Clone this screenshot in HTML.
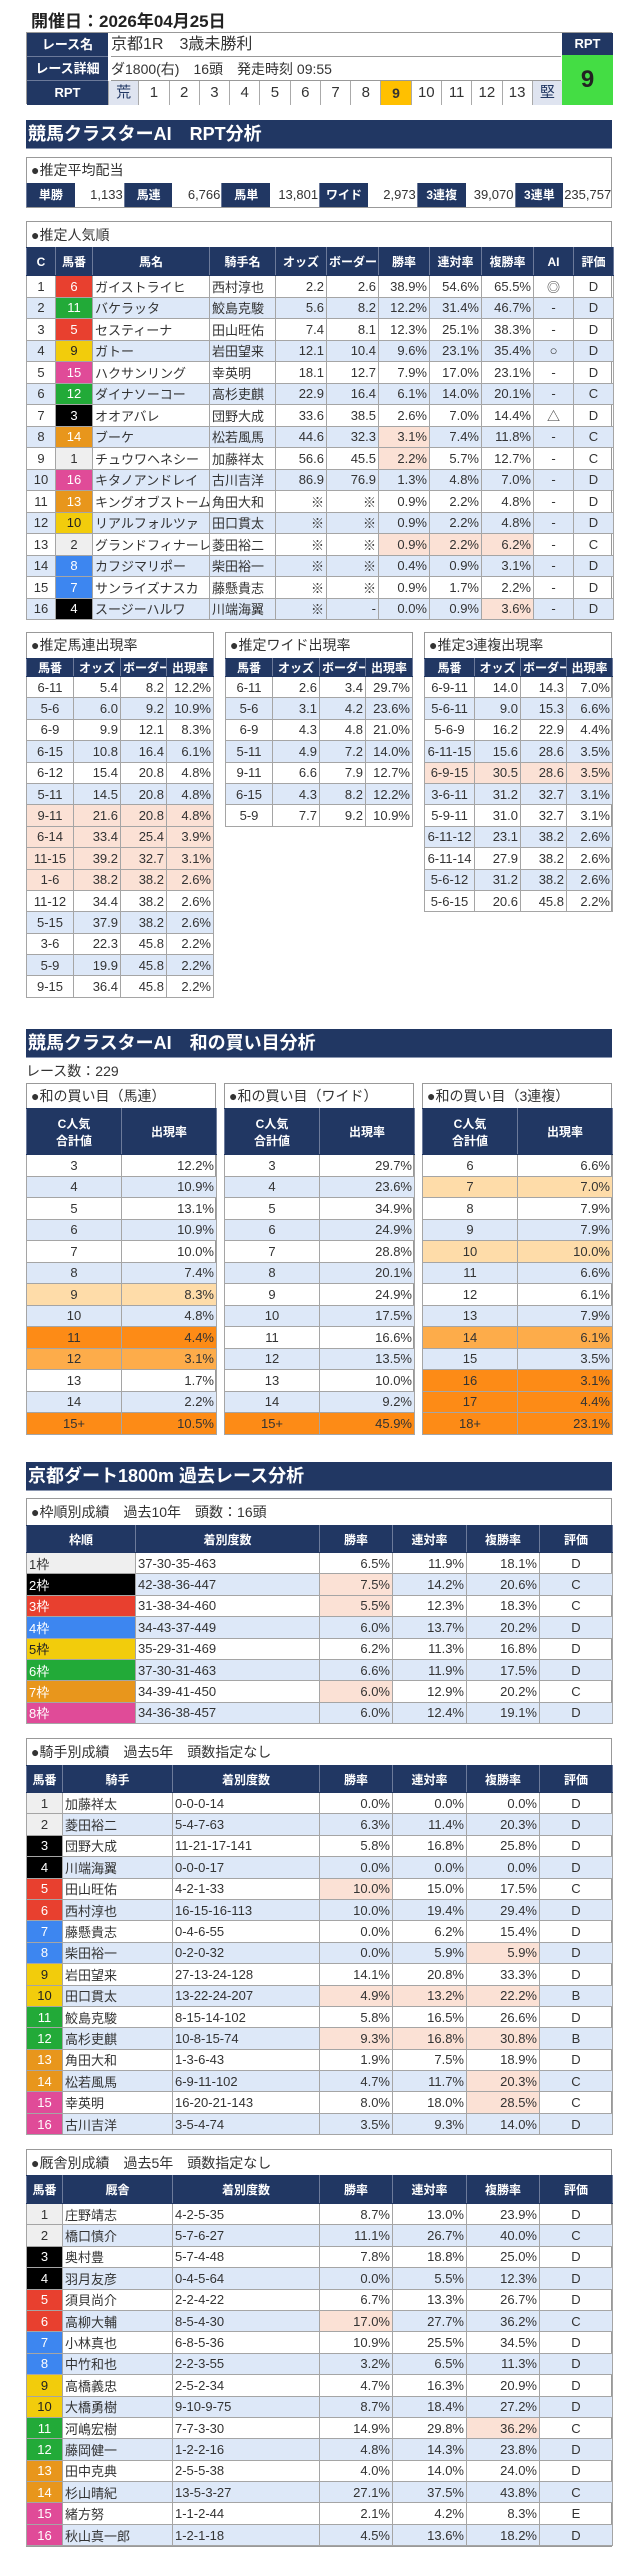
<!DOCTYPE html>
<html lang="ja"><head><meta charset="utf-8">
<style>
*{box-sizing:border-box;margin:0;padding:0}
body{width:633px;height:2560px;background:#fff;position:relative;overflow:hidden;font-family:"Liberation Sans","Noto Sans CJK JP",sans-serif;color:#333}
.abs{position:absolute}
.bar{position:absolute;left:26px;width:586px;height:29px;background:#213763;color:#fff;font-weight:bold;font-size:18px;line-height:29px;padding-left:2px;border-bottom:1px solid #8a96b0}
.box{position:absolute;border:1px solid #999;background:#fff}
.ttl{font-size:14px;padding-left:4px;white-space:nowrap;overflow:hidden}
table{border-collapse:collapse;table-layout:fixed;position:absolute}
td,th{border:1px solid #a5a5a5;font-size:13px;white-space:nowrap;overflow:hidden;padding:0 2px}
th{background:#213763;color:#fff;font-weight:bold;font-size:12px;text-align:center;border-color:#213763 #6c7a9a}
td.r{text-align:right}td.c{text-align:center}td.l{text-align:left}
tr.alt td{background:#dde8f8}
td.pk{background:#fbe1d5!important}
td.o1{background:#fedca9!important}td.o2{background:#fdac4a!important}td.o3{background:#fd8b16!important}
</style></head><body>
<div class="abs" style="left:31px;top:7px;font-size:17px;font-weight:bold;color:#222">開催日：2026年04月25日</div>

<div class="abs" style="left:26px;top:32px;width:586px;height:72px;border:1px solid #999">
 <div class="abs" style="left:0;top:0;width:81px;height:24px;background:#213763;color:#fff;font-weight:bold;font-size:13px;text-align:center;line-height:24px;border-bottom:1px solid #6c7a9a">レース名</div>
 <div class="abs" style="left:0;top:24px;width:81px;height:24px;background:#213763;color:#fff;font-weight:bold;font-size:13px;text-align:center;line-height:24px;border-bottom:1px solid #6c7a9a">レース詳細</div>
 <div class="abs" style="left:0;top:48px;width:81px;height:24px;background:#213763;color:#fff;font-weight:bold;font-size:13px;text-align:center;line-height:24px">RPT</div>
 <div class="abs" style="left:84px;top:0;width:450px;height:24px;font-size:16px;line-height:24px;border-bottom:1px solid #999">京都1R　3歳未勝利</div>
 <div class="abs" style="left:84px;top:24px;width:450px;height:24px;font-size:14px;line-height:24px;border-bottom:1px solid #999">ダ1800(右)　16頭　発走時刻 09:55</div>
 <div class="abs" id="rptscale" style="left:81px;top:48px;width:454px;height:24px"></div>
 <div class="abs" style="left:535px;top:0;width:51px;height:22px;background:#213763;color:#fff;font-weight:bold;font-size:13px;text-align:center;line-height:22px">RPT</div>
 <div class="abs" style="left:535px;top:22px;width:51px;height:50px;background:#44dd44;color:#222;font-weight:bold;font-size:24px;text-align:center;line-height:50px">9</div>
</div>

<div class="bar" style="top:120px">競馬クラスターAI　RPT分析</div>
<div class="box" style="left:26px;top:157px;width:586px;height:51px"><div class="ttl" style="line-height:25px">●推定平均配当</div><div id="payout" class="abs" style="left:-1px;top:25px;width:586px;height:24px"></div></div>

<div class="box" style="left:26px;top:221px;width:586px;height:399px"><div class="ttl" style="line-height:26px">●推定人気順</div></div>

<div class="box" style="left:26px;top:632px;width:188px;height:366px"><div class="ttl" style="line-height:25px">●推定馬連出現率</div></div>
<div class="box" style="left:225px;top:632px;width:188px;height:195px"><div class="ttl" style="line-height:25px">●推定ワイド出現率</div></div>
<div class="box" style="left:424px;top:632px;width:188px;height:280px"><div class="ttl" style="line-height:25px">●推定3連複出現率</div></div>

<div class="bar" style="top:1029px">競馬クラスターAI　和の買い目分析</div>
<div class="abs" style="left:26px;top:1061px;font-size:14px">レース数：229</div>
<div class="box" style="left:26px;top:1083px;width:190px;height:351px"><div class="ttl" style="line-height:25px">●和の買い目（馬連）</div></div>
<div class="box" style="left:224px;top:1083px;width:190px;height:351px"><div class="ttl" style="line-height:25px">●和の買い目（ワイド）</div></div>
<div class="box" style="left:422px;top:1083px;width:190px;height:351px"><div class="ttl" style="line-height:25px">●和の買い目（3連複）</div></div>

<div class="bar" style="top:1462px">京都ダート1800m 過去レース分析</div>
<div class="box" style="left:26px;top:1498px;width:586px;height:226px"><div class="ttl" style="line-height:26px">●枠順別成績　過去10年　頭数：16頭</div></div>
<div class="box" style="left:26px;top:1738px;width:586px;height:397px"><div class="ttl" style="line-height:26px">●騎手別成績　過去5年　頭数指定なし</div></div>
<div class="box" style="left:26px;top:2149px;width:586px;height:398px"><div class="ttl" style="line-height:26px">●厩舎別成績　過去5年　頭数指定なし</div></div>

<script>
const rptLabels=["荒","1","2","3","4","5","6","7","8","9","10","11","12","13","堅"];
const rptValue="9";
const payoutLabels=["単勝","馬連","馬単","ワイド","3連複","3連単"];
const payoutValues=["1,133","6,766","13,801","2,973","39,070","235,757"];

const popHead=["C","馬番","馬名","騎手名","オッズ","ボーダー","勝率","連対率","複勝率","AI","評価"];
const popRows=[
["1","6","ガイストライヒ","西村淳也","2.2","2.6","38.9%","54.6%","65.5%","◎","D"],
["2","11","バケラッタ","鮫島克駿","5.6","8.2","12.2%","31.4%","46.7%","-","D"],
["3","5","セスティーナ","田山旺佑","7.4","8.1","12.3%","25.1%","38.3%","-","D"],
["4","9","ガトー","岩田望来","12.1","10.4","9.6%","23.1%","35.4%","○","D"],
["5","15","ハクサンリング","幸英明","18.1","12.7","7.9%","17.0%","23.1%","-","D"],
["6","12","ダイナソーコー","高杉吏麒","22.9","16.4","6.1%","14.0%","20.1%","-","C"],
["7","3","オオアバレ","団野大成","33.6","38.5","2.6%","7.0%","14.4%","△","D"],
["8","14","ブーケ","松若風馬","44.6","32.3","3.1%","7.4%","11.8%","-","C"],
["9","1","チュウワヘネシー","加藤祥太","56.6","45.5","2.2%","5.7%","12.7%","-","C"],
["10","16","キタノアンドレイ","古川吉洋","86.9","76.9","1.3%","4.8%","7.0%","-","D"],
["11","13","キングオブストーム","角田大和","※","※","0.9%","2.2%","4.8%","-","D"],
["12","10","リアルフォルツァ","田口貫太","※","※","0.9%","2.2%","4.8%","-","D"],
["13","2","グランドフィナーレ","菱田裕二","※","※","0.9%","2.2%","6.2%","-","C"],
["14","8","カフジマリポー","柴田裕一","※","※","0.4%","0.9%","3.1%","-","D"],
["15","7","サンライズナスカ","藤懸貴志","※","※","0.9%","1.7%","2.2%","-","D"],
["16","4","スージーハルワ","川端海翼","※","-","0.0%","0.9%","3.6%","-","D"]];
const popPeach=["7:6","8:6","12:6","12:7","12:8","15:8"];

const smallHead=["馬番","オッズ","ボーダー","出現率"];
const umarenRows=[["6-11","5.4","8.2","12.2%"],["5-6","6.0","9.2","10.9%"],["6-9","9.9","12.1","8.3%"],["6-15","10.8","16.4","6.1%"],["6-12","15.4","20.8","4.8%"],["5-11","14.5","20.8","4.8%"],["9-11","21.6","20.8","4.8%"],["6-14","33.4","25.4","3.9%"],["11-15","39.2","32.7","3.1%"],["1-6","38.2","38.2","2.6%"],["11-12","34.4","38.2","2.6%"],["5-15","37.9","38.2","2.6%"],["3-6","22.3","45.8","2.2%"],["5-9","19.9","45.8","2.2%"],["9-15","36.4","45.8","2.2%"]];
const umarenPeachRows=[6,7,8,9];
const wideRows=[["6-11","2.6","3.4","29.7%"],["5-6","3.1","4.2","23.6%"],["6-9","4.3","4.8","21.0%"],["5-11","4.9","7.2","14.0%"],["9-11","6.6","7.9","12.7%"],["6-15","4.3","8.2","12.2%"],["5-9","7.7","9.2","10.9%"]];
const widePeachRows=[];
const trioRows=[["6-9-11","14.0","14.3","7.0%"],["5-6-11","9.0","15.3","6.6%"],["5-6-9","16.2","22.9","4.4%"],["6-11-15","15.6","28.6","3.5%"],["6-9-15","30.5","28.6","3.5%"],["3-6-11","31.2","32.7","3.1%"],["5-9-11","31.0","32.7","3.1%"],["6-11-12","23.1","38.2","2.6%"],["6-11-14","27.9","38.2","2.6%"],["5-6-12","31.2","38.2","2.6%"],["5-6-15","20.6","45.8","2.2%"]];
const trioPeachRows=[4];

const sumHead=["C人気<br>合計値","出現率"];
const sumUmarenKeys=["3","4","5","6","7","8","9","10","11","12","13","14","15+"];
const sumUmarenVals=["12.2%","10.9%","13.1%","10.9%","10.0%","7.4%","8.3%","4.8%","4.4%","3.1%","1.7%","2.2%","10.5%"];
const sumUmarenHi=["","","","","","","o1","","o3","o2","","","o3"];
const sumWideKeys=["3","4","5","6","7","8","9","10","11","12","13","14","15+"];
const sumWideVals=["29.7%","23.6%","34.9%","24.9%","28.8%","20.1%","24.9%","17.5%","16.6%","13.5%","10.0%","9.2%","45.9%"];
const sumWideHi=["","","","","","","","","","","","","o3"];
const sumTrioKeys=["6","7","8","9","10","11","12","13","14","15","16","17","18+"];
const sumTrioVals=["6.6%","7.0%","7.9%","7.9%","10.0%","6.6%","6.1%","7.9%","6.1%","3.5%","3.1%","4.4%","23.1%"];
const sumTrioHi=["","o1","","","o1","","","","o2","","o3","o3","o3"];

const frameHead=["枠順","着別度数","勝率","連対率","複勝率","評価"];
const frameRows=[["1枠","37-30-35-463","6.5%","11.9%","18.1%","D"],["2枠","42-38-36-447","7.5%","14.2%","20.6%","C"],["3枠","31-38-34-460","5.5%","12.3%","18.3%","C"],["4枠","34-43-37-449","6.0%","13.7%","20.2%","D"],["5枠","35-29-31-469","6.2%","11.3%","16.8%","D"],["6枠","37-30-31-463","6.6%","11.9%","17.5%","D"],["7枠","34-39-41-450","6.0%","12.9%","20.2%","C"],["8枠","34-36-38-457","6.0%","12.4%","19.1%","D"]];
const framePeach=["1:2","2:2","6:2"];

const jockeyHead=["馬番","騎手","着別度数","勝率","連対率","複勝率","評価"];
const jockeyRows=[["1","加藤祥太","0-0-0-14","0.0%","0.0%","0.0%","D"],["2","菱田裕二","5-4-7-63","6.3%","11.4%","20.3%","D"],["3","団野大成","11-21-17-141","5.8%","16.8%","25.8%","D"],["4","川端海翼","0-0-0-17","0.0%","0.0%","0.0%","D"],["5","田山旺佑","4-2-1-33","10.0%","15.0%","17.5%","C"],["6","西村淳也","16-15-16-113","10.0%","19.4%","29.4%","D"],["7","藤懸貴志","0-4-6-55","0.0%","6.2%","15.4%","D"],["8","柴田裕一","0-2-0-32","0.0%","5.9%","5.9%","D"],["9","岩田望来","27-13-24-128","14.1%","20.8%","33.3%","D"],["10","田口貫太","13-22-24-207","4.9%","13.2%","22.2%","B"],["11","鮫島克駿","8-15-14-102","5.8%","16.5%","26.6%","D"],["12","高杉吏麒","10-8-15-74","9.3%","16.8%","30.8%","B"],["13","角田大和","1-3-6-43","1.9%","7.5%","18.9%","D"],["14","松若風馬","6-9-11-102","4.7%","11.7%","20.3%","C"],["15","幸英明","16-20-21-143","8.0%","18.0%","28.5%","C"],["16","古川吉洋","3-5-4-74","3.5%","9.3%","14.0%","D"]];
const jockeyPeach=["4:3","7:5","9:3","9:4","9:5","11:3","11:4","11:5","13:5","14:5"];

const trainerHead=["馬番","厩舎","着別度数","勝率","連対率","複勝率","評価"];
const trainerRows=[["1","庄野靖志","4-2-5-35","8.7%","13.0%","23.9%","D"],["2","橋口慎介","5-7-6-27","11.1%","26.7%","40.0%","C"],["3","奥村豊","5-7-4-48","7.8%","18.8%","25.0%","D"],["4","羽月友彦","0-4-5-64","0.0%","5.5%","12.3%","D"],["5","須貝尚介","2-2-4-22","6.7%","13.3%","26.7%","D"],["6","高柳大輔","8-5-4-30","17.0%","27.7%","36.2%","C"],["7","小林真也","6-8-5-36","10.9%","25.5%","34.5%","D"],["8","中竹和也","2-2-3-55","3.2%","6.5%","11.3%","D"],["9","高橋義忠","2-5-2-34","4.7%","16.3%","20.9%","D"],["10","大橋勇樹","9-10-9-75","8.7%","18.4%","27.2%","D"],["11","河嶋宏樹","7-7-3-30","14.9%","29.8%","36.2%","C"],["12","藤岡健一","1-2-2-16","4.8%","14.3%","23.8%","D"],["13","田中克典","2-5-5-38","4.0%","14.0%","24.0%","D"],["14","杉山晴紀","13-5-3-27","27.1%","37.5%","43.8%","C"],["15","緒方努","1-1-2-44","2.1%","4.2%","8.3%","E"],["16","秋山真一郎","1-2-1-18","4.5%","13.6%","18.2%","D"]];
const trainerPeach=["5:3","10:5"];

const frameBg=["#efefef","#000000","#e8402f","#3d86f0","#f2cc0c","#22aa38","#e8961c","#e04b98"];
const frameFg=["#333","#fff","#fff","#fff","#222","#fff","#fff","#fff"];
function frameOf(n){return Math.floor((n-1)/2);}

const rs=document.getElementById('rptscale');
rptLabels.forEach((t,i)=>{
  const d=document.createElement('div');
  
  
  const sel=t===rptValue, end=(i===0||i===rptLabels.length-1);
  d.style.cssText=`position:absolute;left:${i*30.27}px;top:0;width:30.27px;height:24px;border-left:1px solid #aaa;text-align:center;line-height:24px;font-size:${sel?14:15}px;${sel?'font-weight:bold;':''}background:${sel?'#ffc000':end?'#dfe4f0':'#fff'};color:${end?'#213763':'#333'}`;
  d.textContent=t;rs.appendChild(d);
});
const po=document.getElementById('payout');
payoutLabels.forEach((t,i)=>{
  const a=document.createElement('div');
  
  
  a.style.cssText=`position:absolute;left:${i*97.7}px;top:0;width:48.8px;height:24px;background:#213763;color:#fff;font-weight:bold;font-size:12px;text-align:center;line-height:24px;border-left:1px solid #6c7a9a`;
  a.textContent=t;po.appendChild(a);
  const b=document.createElement('div');
  
  
  b.style.cssText=`position:absolute;left:${i*97.7+48.8}px;top:0;width:48.9px;height:24px;font-size:13px;text-align:right;padding-right:1px;line-height:24px;overflow:hidden;white-space:nowrap`;
  b.textContent=payoutValues[i];po.appendChild(b);
});

function makeTable(name,x,y,widths,headH,head,rowH,rows,align,opts){
  const t=document.createElement('table');
  
  
  t.style.left=x+'px';t.style.top=y+'px';
  t.style.width=widths.reduce((a,b)=>a+b,0)+'px';
  const cg=document.createElement('colgroup');
  widths.forEach(w=>{const c=document.createElement('col');c.style.width=w+'px';cg.appendChild(c);});
  t.appendChild(cg);
  const hr=document.createElement('tr');
  
  
  hr.style.height=headH+'px';
  head.forEach(h=>{const th=document.createElement('th');
    
    
    th.innerHTML=h;hr.appendChild(th);});
  t.appendChild(hr);
  rows.forEach((r,ri)=>{
    const tr=document.createElement('tr');
    
    
    tr.style.height=rowH+'px';
    if(ri%2===1)tr.className='alt';
    r.forEach((v,ci)=>{
      const td=document.createElement('td');
      
      
      td.className=align[ci];
      td.textContent=v;
      if(opts.peach&&opts.peach.indexOf(ri+':'+ci)>=0)td.classList.add('pk');
      if(opts.peachRows&&opts.peachRows.indexOf(ri)>=0)td.classList.add('pk');
      if(opts.hi&&opts.hi[ri])td.classList.add(opts.hi[ri]);
      if(opts.numCol===ci){const f=opts.frameIdx?opts.frameIdx(v,ri):frameOf(+v);
        td.style.background=frameBg[f];td.style.color=frameFg[f];}
      tr.appendChild(td);
    });
    t.appendChild(tr);
  });
  document.body.appendChild(t);
}
makeTable('popularity-table',26,247,[29,37,117,66,51,52,51,52,52,40,40],28,popHead,21.5,popRows,['c','c','l','l','r','r','r','r','r','c','c'],{peach:popPeach,numCol:1});
makeTable('umaren-table',26,658,[47,47,46,47],17,smallHead,21.4,umarenRows,['c','r','r','r'],{peachRows:umarenPeachRows});
makeTable('wide-table',225,658,[47,47,46,47],17,smallHead,21.4,wideRows,['c','r','r','r'],{peachRows:widePeachRows});
makeTable('trio-table',424,658,[50,46,46,46],17,smallHead,21.4,trioRows,['c','r','r','r'],{peachRows:trioPeachRows});
function zip(a,b){return a.map((k,i)=>[k,b[i]]);}
makeTable('sum-umaren-table',26,1108,[95,95],46,sumHead,21.5,zip(sumUmarenKeys,sumUmarenVals),['c','r'],{hi:sumUmarenHi});
makeTable('sum-wide-table',224,1108,[95,95],46,sumHead,21.5,zip(sumWideKeys,sumWideVals),['c','r'],{hi:sumWideHi});
makeTable('sum-trio-table',422,1108,[95,95],46,sumHead,21.5,zip(sumTrioKeys,sumTrioVals),['c','r'],{hi:sumTrioHi});
makeTable('frame-table',26,1525,[109,184,73,74,73,73],27,frameHead,21.4,frameRows,['l','l','r','r','r','c'],{peach:framePeach,numCol:0,frameIdx:(v,ri)=>ri});
makeTable('jockey-table',26,1765,[36,110,147,73,74,73,73],27,jockeyHead,21.4,jockeyRows,['c','l','l','r','r','r','c'],{peach:jockeyPeach,numCol:0});
makeTable('trainer-table',26,2175,[36,110,147,73,74,73,73],28,trainerHead,21.4,trainerRows,['c','l','l','r','r','r','c'],{peach:trainerPeach,numCol:0});
</script>
</body></html>
